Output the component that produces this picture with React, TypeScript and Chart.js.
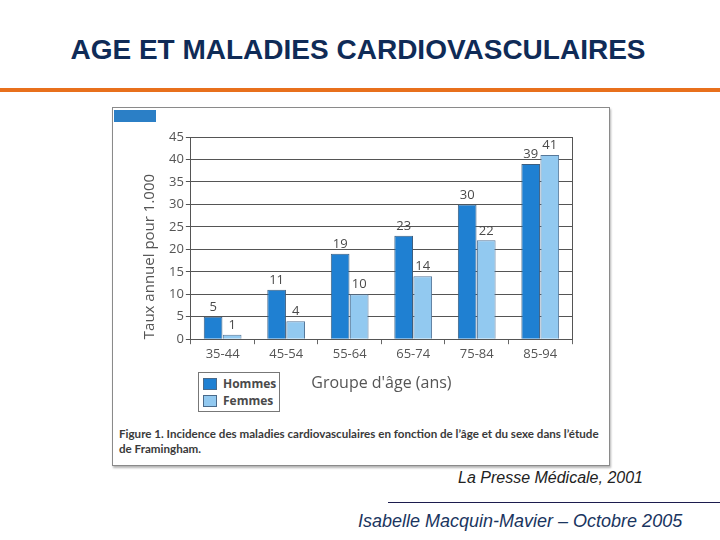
import React, { useEffect, useRef } from "react";
import { Chart, registerables } from "chart.js";

Chart.register(...registerables);

const categories = ["35-44", "45-54", "55-64", "65-74", "75-84", "85-94"];
const hommes = [5, 11, 19, 23, 30, 39];
const femmes = [1, 4, 10, 14, 22, 41];
const yTicks = [0, 5, 10, 15, 20, 25, 30, 35, 40, 45];
const seriesNames = ["Hommes", "Femmes"];
const colors = ["#1f80d2", "#92c9f0"];

const FONT = "'Open Sans', 'DejaVu Sans', sans-serif";

const valueLabels = {
  id: "valueLabels",
  afterDatasetsDraw(chart: any) {
    const ctx = chart.ctx;
    ctx.save();
    ctx.font = `13px ${FONT}`;
    ctx.fillStyle = "#4a4a4a";
    ctx.textAlign = "center";
    ctx.textBaseline = "bottom";
    chart.data.datasets.forEach((ds: any, i: number) => {
      const meta = chart.getDatasetMeta(i);
      meta.data.forEach((bar: any, j: number) => {
        ctx.fillText(String(ds.data[j]), bar.x, bar.y - 3);
      });
    });
    const a = chart.chartArea;
    ctx.strokeStyle = "#555";
    ctx.lineWidth = 1;
    ctx.beginPath();
    ctx.moveTo(Math.round(a.right) + 0.5, a.top);
    ctx.lineTo(Math.round(a.right) + 0.5, a.bottom);
    ctx.stroke();
    ctx.restore();
  },
};

function BarChart() {
  const ref = useRef<HTMLCanvasElement | null>(null);
  useEffect(() => {
    if (!ref.current) return;
    const chart = new Chart(ref.current, {
      type: "bar",
      data: {
        labels: categories,
        datasets: [
          {
            label: seriesNames[0],
            data: hommes,
            backgroundColor: colors[0],
            borderColor: "#3d5f80",
            borderWidth: 1,
          },
          {
            label: seriesNames[1],
            data: femmes,
            backgroundColor: colors[1],
            borderColor: "#56789a",
            borderWidth: 1,
          },
        ],
      },
      options: {
        animation: false,
        responsive: false,
        maintainAspectRatio: false,
        layout: { padding: { top: 28, right: 36, bottom: 8, left: 27 } },
        plugins: {
          legend: { display: false },
          tooltip: { enabled: false },
        },
        datasets: {
          bar: { categoryPercentage: 0.6, barPercentage: 0.98 },
        },
        scales: {
          x: {
            grid: {
              display: true,
              drawOnChartArea: false,
              drawTicks: true,
              tickLength: 5,
              color: "#666",
            },
            border: { display: true, color: "#555" },
            ticks: {
              color: "#555",
              font: { family: FONT, size: 13 },
              padding: 2,
            },
            title: {
              display: true,
              text: "Groupe d'âge (ans)",
              color: "#555",
              font: { family: FONT, size: 16 },
              padding: { top: 10, bottom: 0 },
            },
          },
          y: {
            min: 0,
            max: 45,
            afterBuildTicks(axis: any) {
              axis.ticks = yTicks.map((v) => ({ value: v }));
            },
            grid: {
              color: "#555",
              lineWidth: 1,
              tickLength: 5,
            },
            border: { display: true, color: "#555" },
            ticks: {
              color: "#555",
              font: { family: FONT, size: 13 },
              padding: 2,
            },
            title: {
              display: true,
              text: "Taux annuel pour 1.000",
              align: "start",
              color: "#555",
              font: { family: FONT, size: 15 },
              padding: { top: 0, bottom: 8 },
            },
          },
        },
      },
      plugins: [valueLabels],
    });
    return () => chart.destroy();
  }, []);
  return (
    <canvas
      ref={ref}
      width={494}
      height={292}
      style={{ position: "absolute", left: 1, top: 1, width: 494, height: 292 }}
    />
  );
}

export default function App() {
  return (
    <div
      style={{
        position: "fixed",
        left: 0,
        top: 0,
        width: 720,
        height: 540,
        background: "#ffffff",
        overflow: "hidden",
        fontFamily: "'Liberation Sans', Arial, sans-serif",
      }}
    >
      <div
        style={{
          position: "absolute",
          left: 0,
          width: 716,
          top: 34,
          textAlign: "center",
          fontWeight: "bold",
          fontSize: 28,
          color: "#0f2b57",
          letterSpacing: 0,
        }}
      >
        AGE ET MALADIES CARDIOVASCULAIRES
      </div>
      <div
        style={{
          position: "absolute",
          left: 0,
          top: 88,
          width: 720,
          height: 4,
          background: "#e8701c",
        }}
      />
      <div
        style={{
          position: "absolute",
          left: 112,
          top: 107,
          width: 496,
          height: 357,
          border: "1px solid #8a8a8a",
          boxShadow: "1px 2px 2px #b5b5b5",
          background: "#fff",
        }}
      >
        <div
          style={{
            position: "absolute",
            left: 1,
            top: 2,
            width: 42,
            height: 12,
            background: "#2b7fc6",
          }}
        />
        <BarChart />
        <div
          style={{
            position: "absolute",
            left: 85,
            top: 264,
            width: 80,
            height: 38,
            border: "1px solid #777",
            background: "#fff",
            fontFamily: FONT,
            fontWeight: "bold",
            fontSize: 12,
            color: "#4a4a4a",
          }}
        >
          {seriesNames.map((n, i) => (
            <div
              key={n}
              style={{
                position: "absolute",
                left: 4,
                top: 3 + i * 17,
                display: "flex",
                alignItems: "center",
                height: 15,
              }}
            >
              <span
                style={{
                  display: "inline-block",
                  width: 12,
                  height: 10,
                  background: colors[i],
                  border: "1px solid #4a6a8a",
                  marginRight: 6,
                }}
              />
              {n}
            </div>
          ))}
        </div>
        <div
          style={{
            position: "absolute",
            left: 6,
            top: 318,
            width: 494,
            fontFamily: "'Lato', sans-serif",
            fontWeight: "bold",
            fontSize: 11.6,
            lineHeight: "15px",
            color: "#3a3a3a",
            whiteSpace: "nowrap",
          }}
        >
          Figure 1. Incidence des maladies cardiovasculaires en fonction de l’âge et du sexe dans l’étude
          <br />
          de Framingham.
        </div>
      </div>
      <div
        style={{
          position: "absolute",
          left: 458,
          top: 469,
          fontStyle: "italic",
          fontSize: 16,
          color: "#222",
        }}
      >
        La Presse Médicale, 2001
      </div>
      <div
        style={{
          position: "absolute",
          left: 388,
          top: 502,
          width: 332,
          height: 1,
          background: "#1c1c4e",
        }}
      />
      <div
        style={{
          position: "absolute",
          left: 358,
          top: 511,
          fontStyle: "italic",
          fontSize: 18,
          color: "#1a3560",
        }}
      >
        Isabelle Macquin-Mavier – Octobre 2005
      </div>
    </div>
  );
}
